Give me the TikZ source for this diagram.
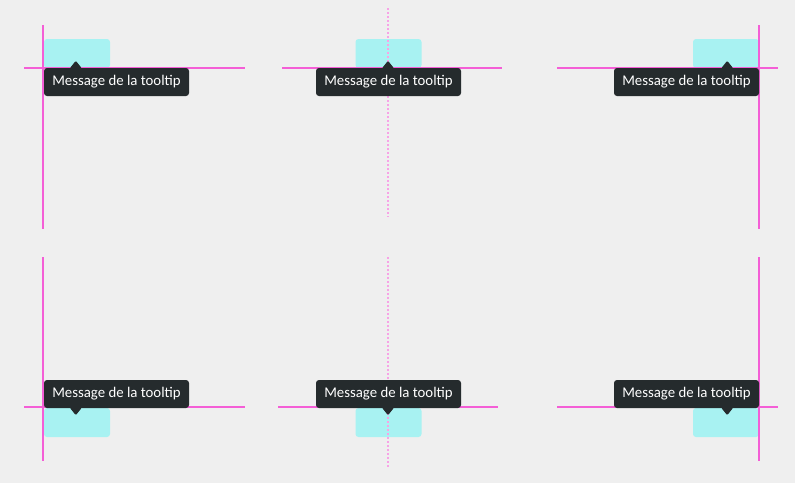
\documentclass[tikz,border=0pt]{standalone}
\usepackage{fontspec}
\setmainfont{Carlito}
\definecolor{fond}{HTML}{EFEFEF}
\definecolor{rose}{HTML}{F45ED6}
\definecolor{rosepale}{HTML}{F7A3E6}
\definecolor{turquoise}{HTML}{A8F2F2}
\definecolor{sombre}{HTML}{252B2D}
\tikzset{
  bulle/.style={fill=sombre, text=white, rounded corners=3pt, minimum width=145pt,
    minimum height=28pt, inner sep=0pt, font=\fontsize{14.8}{16}\selectfont},
  cible/.style={fill=turquoise, rounded corners=3pt, minimum width=66pt,
    minimum height=29pt, inner sep=0pt},
  guide/.style={rose, line width=1.1pt},
  axe/.style={rosepale, line width=1.5pt, dash pattern=on 2pt off 2pt},
  pointe/.style={fill=sombre, rounded corners=1pt}
}
\begin{document}
\begin{tikzpicture}[x=1pt,y=-1pt]
  \fill[fond] (0,0) rectangle (795,483);
  \useasboundingbox (0,0) rectangle (795,483);

  % cibles
  \node[cible] (cb1) at (77,53.5){};
  \node[cible] (cb2) at (388.5,53.5){};
  \node[cible] (cb3) at (726,53.5){};
  \node[cible] (cb4) at (77,422.5){};
  \node[cible] (cb5) at (388.5,422.5){};
  \node[cible] (cb6) at (726,422.5){};

  % reperes
  \coordinate (v1a) at (43,25);   \coordinate (v1b) at (43,229);
  \coordinate (v2a) at (388,8);   \coordinate (v2b) at (388,217);
  \coordinate (v3a) at (759,25);  \coordinate (v3b) at (759,229);
  \coordinate (v4a) at (43,257);  \coordinate (v4b) at (43,461);
  \coordinate (v5a) at (388,257); \coordinate (v5b) at (388,468);
  \coordinate (v6a) at (759,257); \coordinate (v6b) at (759,461);
  \coordinate (h1a) at (24,68);   \coordinate (h1b) at (245,68);
  \coordinate (h2a) at (282,68);  \coordinate (h2b) at (502,68);
  \coordinate (h3a) at (557,68);  \coordinate (h3b) at (778,68);
  \coordinate (h4a) at (24,407);  \coordinate (h4b) at (245,407);
  \coordinate (h5a) at (278,407); \coordinate (h5b) at (498,407);
  \coordinate (h6a) at (557,407); \coordinate (h6b) at (778,407);
  \draw[guide](v1a) -- (v1b);
  \draw[axe](v2a) -- (v2b);
  \draw[guide](v3a) -- (v3b);
  \draw[guide](v4a) -- (v4b);
  \draw[axe](v5a) -- (v5b);
  \draw[guide](v6a) -- (v6b);
  \draw[guide](h1a) -- (h1b);
  \draw[guide](h2a) -- (h2b);
  \draw[guide](h3a) -- (h3b);
  \draw[guide](h4a) -- (h4b);
  \draw[guide](h5a) -- (h5b);
  \draw[guide](h6a) -- (h6b);

  % tooltips
  \node[bulle] (tt1) at (116.5,82){Message de la tooltip};
  \node[bulle] (tt2) at (388.5,82){Message de la tooltip};
  \node[bulle] (tt3) at (686.5,82){Message de la tooltip};
  \node[bulle] (tt4) at (116.5,394){Message de la tooltip};
  \node[bulle] (tt5) at (388.5,394){Message de la tooltip};
  \node[bulle] (tt6) at (686.5,394){Message de la tooltip};
  \fill[pointe] (tt1.north west) ++(26,0.5) -- ++(6,-7.5) -- ++(6,7.5) -- cycle;
  \fill[pointe] (tt2.north) ++(-6.5,0.5) -- ++(6,-7.5) -- ++(6,7.5) -- cycle;
  \fill[pointe] (tt3.north east) ++(-38,0.5) -- ++(6,-7.5) -- ++(6,7.5) -- cycle;
  \fill[pointe] (tt4.south west) ++(26,-0.5) -- ++(6,7.5) -- ++(6,-7.5) -- cycle;
  \fill[pointe] (tt5.south) ++(-6.5,-0.5) -- ++(6,7.5) -- ++(6,-7.5) -- cycle;
  \fill[pointe] (tt6.south east) ++(-38,-0.5) -- ++(6,7.5) -- ++(6,-7.5) -- cycle;

\end{tikzpicture}
\end{document}
